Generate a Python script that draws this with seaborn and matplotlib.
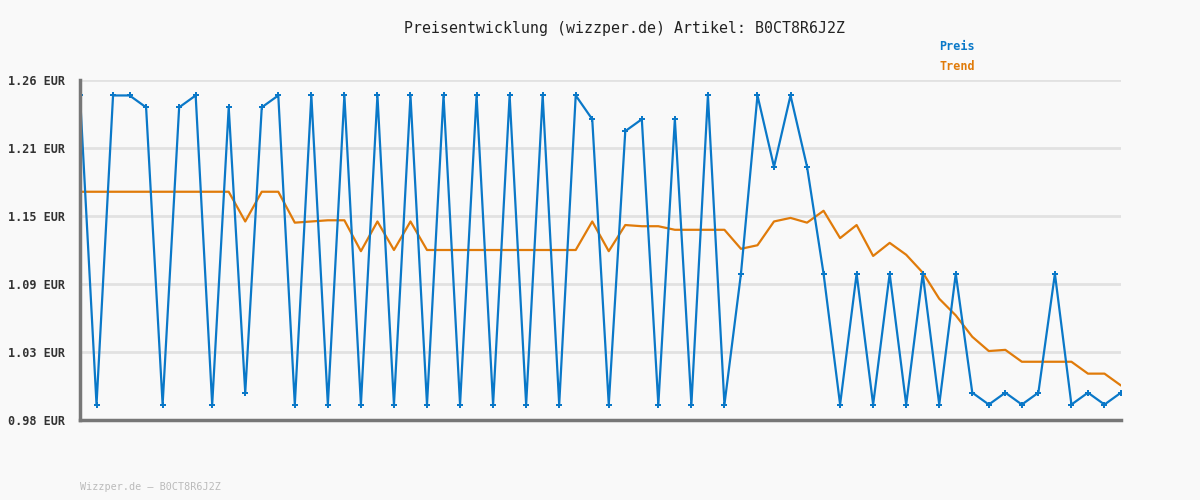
import numpy as np
import pandas as pd
import matplotlib
matplotlib.use('Agg')
import matplotlib.pyplot as plt
import seaborn as sns

# price per observation (EUR)
preis = [1.25, 0.99, 1.25, 1.25, 1.24, 0.99, 1.24, 1.25, 0.99, 1.24,
         1.00, 1.24, 1.25, 0.99, 1.25, 0.99, 1.25, 0.99, 1.25, 0.99,
         1.25, 0.99, 1.25, 0.99, 1.25, 0.99, 1.25, 0.99, 1.25, 0.99,
         1.25, 1.23, 0.99, 1.22, 1.23, 0.99, 1.23, 0.99, 1.25, 0.99,
         1.10, 1.25, 1.19, 1.25, 1.19, 1.10, 0.99, 1.10, 0.99, 1.10,
         0.99, 1.10, 0.99, 1.10, 1.00, 0.99, 1.00, 0.99, 1.00, 1.10,
         0.99, 1.00, 0.99, 1.00]

trend = [1.169, 1.169, 1.169, 1.169, 1.169, 1.169, 1.169, 1.169, 1.169, 1.169,
         1.144, 1.169, 1.169, 1.143, 1.144, 1.145, 1.145, 1.119, 1.144, 1.120,
         1.144, 1.120, 1.120, 1.120, 1.120, 1.120, 1.120, 1.120, 1.120, 1.120,
         1.120, 1.144, 1.119, 1.141, 1.140, 1.140, 1.137, 1.137, 1.137, 1.137,
         1.121, 1.124, 1.144, 1.147, 1.143, 1.153, 1.130, 1.141, 1.115, 1.126,
         1.116, 1.101, 1.079, 1.065, 1.047, 1.035, 1.036, 1.026, 1.026, 1.026,
         1.026, 1.016, 1.016, 1.006]

artikel = 'B0CT8R6J2Z'
blau = '#0a78c8'
orange = '#e07b0a'

df = pd.DataFrame({'idx': np.arange(len(preis)), 'Preis': preis, 'Trend': trend})

sns.set_style('white')
plt.rcParams['font.family'] = ['DejaVu Sans Mono', 'DejaVu Sans']

fig = plt.figure(figsize=(12, 5), dpi=100, facecolor='#f9f9f9')
ax = fig.add_axes([80 / 1200, 80 / 500, 1041 / 1200, 340 / 500])
ax.set_facecolor('#f9f9f9')

sns.lineplot(data=df, x='idx', y='Trend', ax=ax, color=orange, linewidth=1.6)
sns.lineplot(data=df, x='idx', y='Preis', ax=ax, color=blau, linewidth=1.6,
             marker='P', markersize=4, markeredgewidth=0)

# y scale: range padded by 5 % of the span
lo, hi = min(preis), max(preis)
pad = (hi - lo) * 0.05
ymin, ymax = lo - pad, hi + pad
ticks = np.linspace(ymin, ymax, 6)
ax.set_ylim(ymin, ymax)
ax.set_xlim(0, len(preis) - 1)
ax.set_yticks(ticks)
ax.set_yticklabels([f'{t:.2f} EUR' for t in ticks], fontsize=8.5,
                   fontweight='bold', color='#333333')
ax.set_xticks([])
ax.set_xlabel('')
ax.set_ylabel('')
ax.tick_params(axis='y', length=0, pad=10.5)

ax.grid(axis='y', color='#e2e2e2', linewidth=2)
ax.set_axisbelow(True)
for s in ['top', 'right']:
    ax.spines[s].set_visible(False)
for s in ['left', 'bottom']:
    ax.spines[s].set_color('#777777')
    ax.spines[s].set_linewidth(2.5)

fig.text(624 / 1200, 1 - 28 / 500, f'Preisentwicklung (wizzper.de) Artikel: {artikel}',
         ha='center', va='center', fontsize=10.7, color='#222222')
fig.text(939 / 1200, 1 - 47 / 500, 'Preis', ha='left', va='center', fontsize=8.5,
         fontweight='bold', color=blau)
fig.text(939 / 1200, 1 - 67 / 500, 'Trend', ha='left', va='center', fontsize=8.5,
         fontweight='bold', color=orange)
fig.text(80 / 1200, 1 - 487 / 500, f'Wizzper.de \u2013 {artikel}', ha='left', va='center',
         fontsize=7.3, color='#bbbbbb')

fig.savefig('out.png', dpi=100, facecolor=fig.get_facecolor())
